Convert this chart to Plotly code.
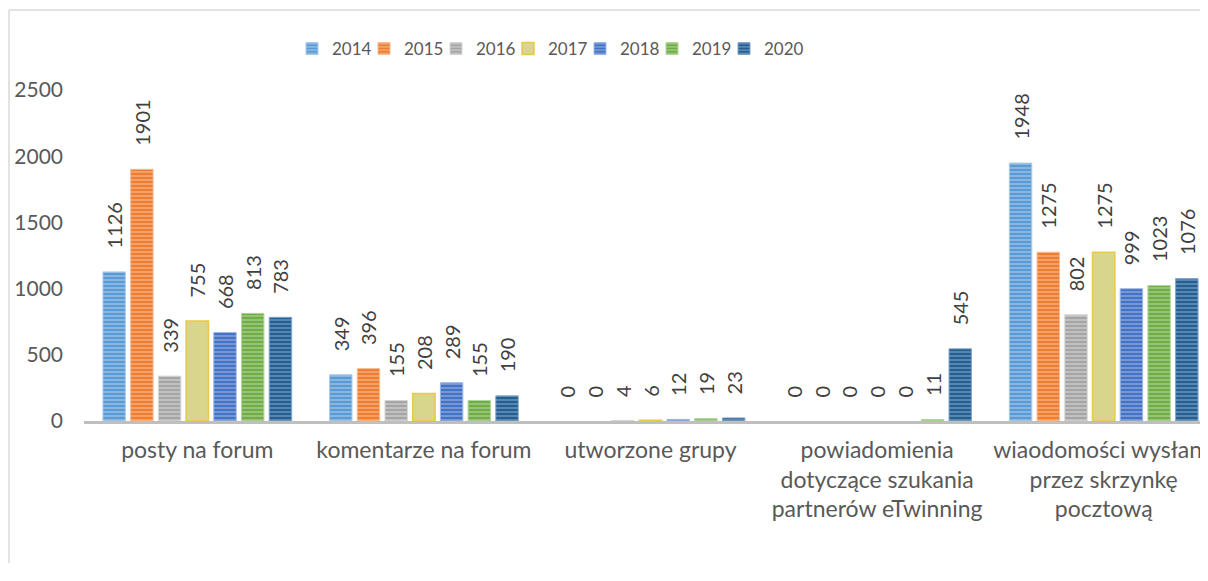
import plotly.graph_objects as go

categories = ["posty na forum", "komentarze na forum", "utworzone grupy",
              "powiadomienia<br>dotyczące szukania<br>partnerów eTwinning",
              "wiaodomości wysłane<br>przez skrzynkę<br>pocztową"]
years = ["2014", "2015", "2016", "2017", "2018", "2019", "2020"]
values = {
    "2014": [1126, 349, 0, 0, 1948],
    "2015": [1901, 396, 0, 0, 1275],
    "2016": [339, 155, 4, 0, 802],
    "2017": [755, 208, 6, 0, 1275],
    "2018": [668, 289, 12, 0, 999],
    "2019": [813, 155, 19, 11, 1023],
    "2020": [783, 190, 23, 545, 1076],
}
colors = {
    "2014": ("#5B9BD5", "#A9CBEB"),
    "2015": ("#ED7D31", "#F6BC95"),
    "2016": ("#A5A5A5", "#D6D6D6"),
    "2017": ("#D8D58C", "#E9C84A"),
    "2018": ("#4472C4", "#9BB5E3"),
    "2019": ("#70AD47", "#B2D69A"),
    "2020": ("#255E91", "#7FA5C9"),
}

FONT = "Lato, 'Open Sans', sans-serif"
PAD = "\u00a0" * 4
W, H = 1200, 555
L, R, T, B = 76, 0, 82, 142
PW = W - L - R
PH = H - T - B
STEP = 226.6  # px per category

fig = go.Figure()
for y in years:
    main, light = colors[y]
    vals = values[y]
    lw = [0 if v == 0 else (1.5 if y == "2017" else 1) for v in vals]
    if y == "2017":
        marker = dict(color=main, line=dict(color=light, width=lw))
    else:
        marker = dict(color=main, line=dict(color=light, width=lw),
                      pattern=dict(shape="-", fillmode="overlay", fgcolor=light,
                                   fgopacity=0.8, size=4, solidity=0.35))
    fig.add_trace(go.Bar(
        name=y, x=categories, y=vals, marker=marker,
        text=[PAD + str(v) for v in vals], textposition="outside",
        textangle=-90, cliponaxis=False, constraintext="none",
        textfont=dict(size=20, color="#404040", family=FONT),
    ))
# spacer legend entry so the last real entry is not clipped
fig.add_trace(go.Scatter(x=[None], y=[None], name="\u00a0", mode="markers",
                         marker=dict(color="rgba(0,0,0,0)"), hoverinfo="skip"))

fig.update_layout(
    width=W, height=H,
    margin=dict(l=L, r=R, t=T, b=B, autoexpand=False),
    paper_bgcolor="white", plot_bgcolor="white",
    barmode="group", bargap=0.144, bargroupgap=0.19,
    font=dict(family=FONT, size=20, color="#595959"),
    legend=dict(orientation="h", x=(325 - 41 - L) / PW, xanchor="left",
                y=(T + PH - 23) / PH, yanchor="top", entrywidth=27,
                font=dict(size=17, color="#595959"), itemwidth=30, tracegroupgap=0),
    showlegend=True,
    xaxis=dict(showgrid=False, showline=True, linecolor="#BFBFBF", linewidth=3,
               ticks="", tickfont=dict(size=23, color="#595959"),
               range=[-0.5, -0.5 + PW / STEP], ticklabelstandoff=6),
    yaxis=dict(range=[0, 2500], dtick=500, showgrid=False, showline=False, zeroline=False,
               ticks="", tickfont=dict(size=21, color="#595959"), ticklabelstandoff=20),
    shapes=[
        dict(type="line", xref="paper", yref="paper",
             x0=(1 - L) / PW, x1=(1 - L) / PW, y0=-1, y1=(T + PH - 2) / PH,
             line=dict(color="#D9D9D9", width=1.5), layer="below"),
        dict(type="line", xref="paper", yref="paper",
             x0=(1 - L) / PW, x1=1.2, y0=(T + PH - 2) / PH, y1=(T + PH - 2) / PH,
             line=dict(color="#D9D9D9", width=1.5), layer="below"),
    ],
)
fig.write_html("out.html")
